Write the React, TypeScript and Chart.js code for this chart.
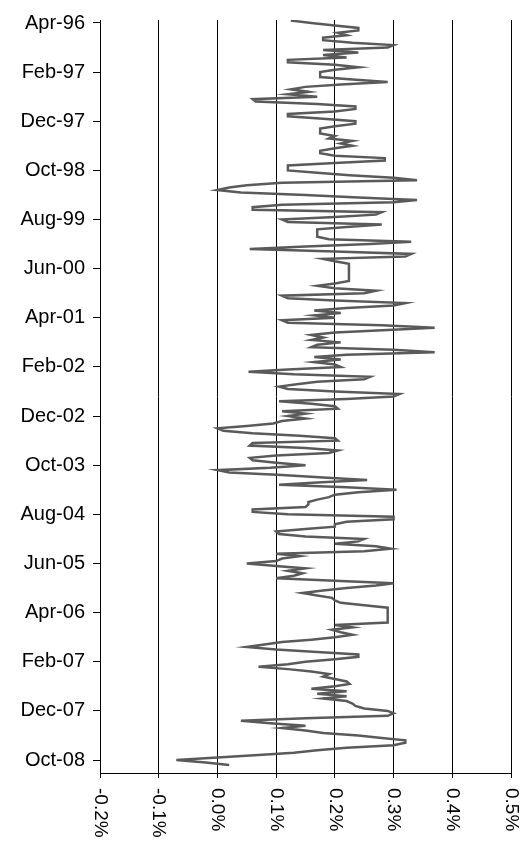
import React, { useEffect, useRef } from "react";
import { Chart, registerables } from "chart.js";

Chart.register(...registerables);

// Tick labels (y: months since Apr-96, every 10 months)
const yTickMonths = [0, 10, 20, 30, 40, 50, 60, 70, 80, 90, 100, 110, 120, 130, 140, 150];
const yTickLabels = [
  "Apr-96", "Feb-97", "Dec-97", "Oct-98", "Aug-99", "Jun-00", "Apr-01", "Feb-02",
  "Dec-02", "Oct-03", "Aug-04", "Jun-05", "Apr-06", "Feb-07", "Dec-07", "Oct-08",
];
const xTickValues = [-0.2, -0.1, 0.0, 0.1, 0.2, 0.3, 0.4, 0.5];
const xTickLabels = ["-0.2%", "-0.1%", "0.0%", "0.1%", "0.2%", "0.3%", "0.4%", "0.5%"];

// Series (in %), one reading every half month starting half a month before Apr-96
const values1996to1999 = [
  0.125, 0.16, 0.20, 0.24, 0.24, 0.205, 0.22, 0.18, 0.18, 0.23,
  0.30, 0.29, 0.18, 0.24, 0.18, 0.22, 0.12, 0.12, 0.20, 0.24,
  0.20, 0.175, 0.175, 0.175, 0.23, 0.29, 0.21, 0.15, 0.125, 0.155,
  0.12, 0.17, 0.06, 0.065, 0.17, 0.235, 0.235, 0.20, 0.12, 0.12,
  0.18, 0.235, 0.235, 0.20, 0.175, 0.175, 0.175, 0.20, 0.19, 0.23,
  0.21, 0.23, 0.20, 0.175, 0.175, 0.20, 0.285, 0.285, 0.20, 0.12,
  0.12, 0.12, 0.17, 0.225, 0.30, 0.34, 0.11, 0.05, 0.02, 0.0,
  0.04, 0.15, 0.24, 0.34, 0.30, 0.11, 0.06, 0.06, 0.28, 0.27,
];
const values1999to2002 = [
  0.20, 0.11, 0.12, 0.28, 0.22, 0.17, 0.17, 0.17, 0.17, 0.19,
  0.33, 0.26, 0.15, 0.055, 0.20, 0.33, 0.32, 0.18, 0.20, 0.224,
  0.224, 0.224, 0.224, 0.224, 0.224, 0.224, 0.224, 0.20, 0.17, 0.20,
  0.27, 0.25, 0.11, 0.12, 0.20, 0.32, 0.30, 0.22, 0.165, 0.21,
  0.165, 0.20, 0.11, 0.12, 0.28, 0.37, 0.29, 0.20, 0.16, 0.18,
  0.16, 0.21, 0.17, 0.16, 0.30, 0.37, 0.22, 0.165, 0.21, 0.165,
  0.20, 0.21, 0.12, 0.053, 0.13, 0.26, 0.25, 0.17, 0.135, 0.105,
  0.12, 0.20, 0.31, 0.30, 0.22, 0.105, 0.16, 0.20, 0.205, 0.11,
];
const values2002to2006 = [
  0.15, 0.12, 0.15, 0.11, 0.095, 0.05, 0.0, 0.01, 0.06, 0.14,
  0.20, 0.205, 0.06, 0.055, 0.15, 0.205, 0.19, 0.10, 0.055, 0.06,
  0.10, 0.15, 0.09, 0.0, 0.02, 0.11, 0.18, 0.255, 0.17, 0.105,
  0.22, 0.305, 0.24, 0.20, 0.19, 0.17, 0.155, 0.155, 0.15, 0.06,
  0.06, 0.12, 0.30, 0.30, 0.22, 0.20, 0.20, 0.15, 0.10, 0.105,
  0.15, 0.25, 0.24, 0.20, 0.27, 0.295, 0.25, 0.10, 0.14, 0.11,
  0.10, 0.05, 0.10, 0.15, 0.12, 0.145, 0.13, 0.10, 0.20, 0.30,
  0.27, 0.22, 0.18, 0.145, 0.17, 0.195, 0.20, 0.21, 0.25, 0.29,
];
const values2006to2008 = [
  0.29, 0.29, 0.29, 0.29, 0.29, 0.29, 0.20, 0.23, 0.195, 0.21,
  0.23, 0.20, 0.16, 0.11, 0.08, 0.05, 0.10, 0.17, 0.24, 0.24,
  0.20, 0.15, 0.12, 0.07, 0.12, 0.16, 0.19, 0.18, 0.20, 0.22,
  0.225, 0.20, 0.16, 0.22, 0.17, 0.22, 0.18, 0.22, 0.23, 0.235,
  0.25, 0.29, 0.30, 0.29, 0.15, 0.04, 0.09, 0.15, 0.11, 0.15,
  0.18, 0.24, 0.28, 0.32, 0.32, 0.30, 0.22, 0.17, 0.13, 0.07,
  0.0, -0.07, -0.02, 0.02,
];

const FIRST_PERIOD = -0.5; // months relative to Apr-96
const PERIOD_STEP = 0.5;

const xLabelPlugin = {
  id: "xRotatedLabels",
  afterDraw(chart: any) {
    const xs = chart.scales.x;
    const ctx = chart.ctx;
    const top = chart.chartArea.bottom + 15;
    ctx.save();
    ctx.font = '19px "Liberation Sans", Arial, sans-serif';
    ctx.fillStyle = "#000";
    ctx.textAlign = "left";
    ctx.textBaseline = "middle";
    xTickValues.forEach((v, i) => {
      const px = xs.getPixelForValue(v);
      ctx.save();
      ctx.translate(px, top);
      ctx.rotate(Math.PI / 2);
      ctx.fillText(xTickLabels[i], 0, 0);
      ctx.restore();
    });
    ctx.restore();
  },
};

export default function App() {
  const canvasRef = useRef<HTMLCanvasElement | null>(null);

  useEffect(() => {
    const all = [...values1996to1999, ...values1999to2002, ...values2002to2006, ...values2006to2008];
    const points = all.map((v, i) => ({ x: v, y: FIRST_PERIOD + i * PERIOD_STEP }));
    const chart = new Chart(canvasRef.current as HTMLCanvasElement, {
      type: "scatter",
      data: {
        datasets: [
          {
            data: points,
            showLine: true,
            borderColor: "#5a5a5a",
            borderWidth: 2.5,
            pointRadius: 0,
            tension: 0,
          },
        ],
      },
      plugins: [xLabelPlugin],
      options: {
        animation: false,
        responsive: false,
        maintainAspectRatio: false,
        layout: { padding: { top: 19, right: 9, left: 0, bottom: 0 } },
        plugins: { legend: { display: false }, tooltip: { enabled: false } },
        scales: {
          x: {
            type: "linear",
            min: -0.2,
            max: 0.5,
            afterBuildTicks: (scale: any) => {
              scale.ticks = xTickValues.map((v) => ({ value: v }));
            },
            afterFit: (scale: any) => {
              scale.height = 73;
            },
            ticks: { display: false },
            grid: { color: "#000", lineWidth: 1, drawTicks: true, tickLength: 5 },
            border: { display: true, color: "#000", width: 1 },
          },
          y: {
            type: "linear",
            reverse: true,
            min: -0.61,
            max: 152.64,
            afterBuildTicks: (scale: any) => {
              scale.ticks = yTickMonths.map((v) => ({ value: v }));
            },
            afterFit: (scale: any) => {
              scale.width = 100;
            },
            ticks: {
              padding: 8,
              color: "#000",
              font: { family: '"Liberation Sans", Arial, sans-serif', size: 20 },
              callback: (value: any) => {
                const idx = yTickMonths.indexOf(Number(value));
                return idx >= 0 ? yTickLabels[idx] : "";
              },
            },
            grid: { drawOnChartArea: false, drawTicks: true, tickLength: 7, color: "#000", lineWidth: 1 },
            border: { display: true, color: "#000", width: 1 },
          },
        },
      },
    });
    return () => chart.destroy();
  }, []);

  return (
    <div style={{ position: "fixed", left: 0, top: 0, width: 520, height: 846, background: "#fff" }}>
      <canvas ref={canvasRef} width={520} height={846} style={{ width: 520, height: 846, display: "block" }} />
    </div>
  );
}
